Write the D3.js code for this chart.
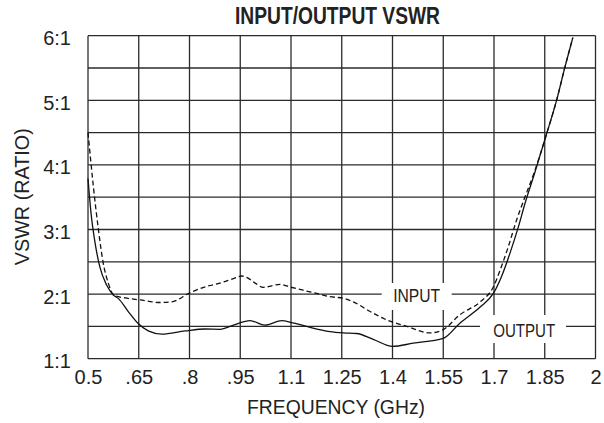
<!DOCTYPE html>
<html>
<head>
<meta charset="utf-8">
<script src="https://cdn.jsdelivr.net/npm/d3@7"></script>
<style>
  html, body { margin: 0; padding: 0; background: #fff; }
  svg { display: block; }
  text { font-family: "Liberation Sans", Arial, Helvetica, sans-serif; fill: #222; }
</style>
</head>
<body>
<svg id="chart" width="604" height="423"></svg>
<script>
// ---- data ----
const xTicks = [0.5, 0.65, 0.8, 0.95, 1.1, 1.25, 1.4, 1.55, 1.7, 1.85, 2.0];
const xTickLabels = ["0.5", ".65", ".8", ".95", "1.1", "1.25", "1.4", "1.55", "1.7", "1.85", "2"];
const yGrid = [1, 1.5, 2, 2.5, 3, 3.5, 4, 4.5, 5, 5.5, 6];
const yTicks = [1, 2, 3, 4, 5, 6];
const yTickLabels = ["1:1", "2:1", "3:1", "4:1", "5:1", "6:1"];

const inputFreq = [0.5, 0.516, 0.531, 0.545, 0.56, 0.577, 0.61, 0.654, 0.713, 0.747, 0.801, 0.851, 0.89, 0.93, 0.954, 0.969, 0.994, 1.018, 1.068, 1.097, 1.136, 1.176, 1.215, 1.255, 1.284, 1.334, 1.383, 1.442, 1.511, 1.55, 1.599, 1.659, 1.698, 1.718, 1.742, 1.767, 1.792, 1.82, 1.856, 1.885, 1.91, 1.933];
const inputVswr = [4.5, 3.66, 2.99, 2.48, 2.17, 1.98, 1.94, 1.91, 1.87, 1.88, 2.02, 2.12, 2.17, 2.24, 2.28, 2.26, 2.17, 2.105, 2.15, 2.11, 2.06, 2.01, 1.96, 1.935, 1.88, 1.73, 1.6, 1.5, 1.4, 1.45, 1.68, 1.88, 2.11, 2.37, 2.73, 3.15, 3.51, 3.9, 4.49, 5.0, 5.52, 5.97];

const outputFreq = [0.5, 0.509, 0.521, 0.535, 0.555, 0.575, 0.59, 0.619, 0.649, 0.678, 0.718, 0.787, 0.846, 0.89, 0.93, 0.979, 1.023, 1.073, 1.102, 1.146, 1.215, 1.255, 1.294, 1.343, 1.4, 1.461, 1.55, 1.599, 1.659, 1.698, 1.722, 1.747, 1.772, 1.792, 1.82, 1.856, 1.885, 1.91, 1.933];
const outputVswr = [3.79, 3.25, 2.79, 2.42, 2.14, 1.985, 1.93, 1.73, 1.54, 1.43, 1.38, 1.43, 1.46, 1.455, 1.52, 1.59, 1.52, 1.59, 1.56, 1.5, 1.42, 1.4, 1.39, 1.3, 1.19, 1.24, 1.315, 1.55, 1.8, 2.01, 2.27, 2.63, 3.04, 3.41, 3.87, 4.49, 5.0, 5.52, 5.97];

const title = "INPUT/OUTPUT VSWR";
const xTitle = "FREQUENCY (GHz)";
const yTitle = "VSWR (RATIO)";

// ---- layout ----
const svg = d3.select("#chart");
const pLeft = 88, pRight = 595.5, pTop = 35.7, pBottom = 358.7;
const x = d3.scaleLinear().domain([0.5, 2.0]).range([pLeft, pRight]);
const y = d3.scaleLinear().domain([1, 6]).range([pBottom, pTop]);
const gridColor = "#2b2b2b";

// grid
const g = svg.append("g");
g.selectAll("line.v").data(xTicks).join("line").attr("class", "v")
  .attr("x1", d => x(d)).attr("x2", d => x(d))
  .attr("y1", pTop).attr("y2", pBottom)
  .attr("stroke", gridColor).attr("stroke-width", 1.3);
g.selectAll("line.h").data(yGrid).join("line").attr("class", "h")
  .attr("x1", pLeft).attr("x2", pRight)
  .attr("y1", d => y(d)).attr("y2", d => y(d))
  .attr("stroke", gridColor).attr("stroke-width", 1.3);

// curves
const line = d3.line().curve(d3.curveMonotoneX);
const inputPts = inputFreq.map((f, i) => [x(f), y(inputVswr[i])]);
const outputPts = outputFreq.map((f, i) => [x(f), y(outputVswr[i])]);

svg.append("path").attr("d", line(outputPts))
  .attr("fill", "none").attr("stroke", "#111").attr("stroke-width", 1.3);
svg.append("path").attr("d", line(inputPts))
  .attr("fill", "none").attr("stroke", "#111").attr("stroke-width", 1.3)
  .attr("stroke-dasharray", "5,3");

// series labels with white boxes
function label(txt, cx, cy, w, bx0, bx1, by0, by1) {
  svg.append("rect").attr("x", bx0).attr("y", by0)
    .attr("width", bx1 - bx0).attr("height", by1 - by0).attr("fill", "#fff");
  svg.append("text").attr("x", cx).attr("y", cy)
    .attr("text-anchor", "middle").attr("font-size", 19)
    .attr("textLength", w).attr("lengthAdjust", "spacingAndGlyphs")
    .text(txt);
}
label("INPUT", 416.7, 302, 47, 381.7, 451.7, 283, 310);
label("OUTPUT", 524.2, 337, 62, 480, 566, 315, 343);

// x axis tick labels
const xAxis = d3.axisBottom(x).tickValues(xTicks)
  .tickFormat((d, i) => xTickLabels[i]).tickSize(0).tickPadding(11);
const xg = svg.append("g").attr("transform", `translate(0,${pBottom})`).call(xAxis);
xg.select(".domain").remove();
xg.selectAll("text").attr("font-size", 20).attr("fill", "#222")
  .attr("font-family", "Liberation Sans, Arial, sans-serif");

// y axis tick labels
const yAxis = d3.axisLeft(y).tickValues(yTicks)
  .tickFormat((d, i) => yTickLabels[i]).tickSize(0).tickPadding(17);
const yg = svg.append("g").attr("transform", `translate(${pLeft},0)`).call(yAxis);
yg.select(".domain").remove();
yg.selectAll("text").attr("font-size", 20).attr("fill", "#222")
  .attr("dy", "0.45em")
  .attr("font-family", "Liberation Sans, Arial, sans-serif");

// titles
svg.append("text").attr("x", 337.5).attr("y", 24)
  .attr("text-anchor", "middle").attr("font-size", 23).attr("font-weight", "bold")
  .attr("textLength", 205).attr("lengthAdjust", "spacingAndGlyphs")
  .text(title);
svg.append("text").attr("x", 336).attr("y", 414)
  .attr("text-anchor", "middle").attr("font-size", 20)
  .attr("textLength", 178).attr("lengthAdjust", "spacingAndGlyphs")
  .text(xTitle);
svg.append("text").attr("transform", "translate(29,196.7) rotate(-90)")
  .attr("text-anchor", "middle").attr("font-size", 20)
  .attr("textLength", 137).attr("lengthAdjust", "spacingAndGlyphs")
  .text(yTitle);
</script>
</body>
</html>
